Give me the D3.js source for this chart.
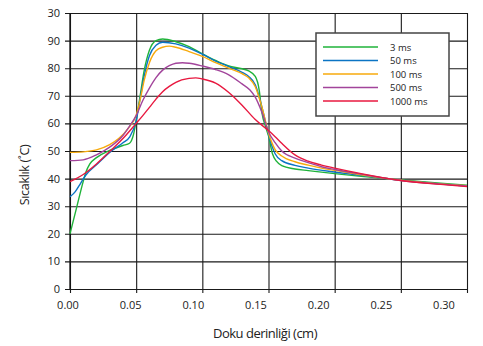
<!DOCTYPE html>
<html>
<head>
<meta charset="utf-8">
<script src="https://cdn.jsdelivr.net/npm/d3@7"></script>
<style>
  body { margin: 0; background: #fff; }
  text { font-family: "Open Sans", sans-serif; fill: #222; }
</style>
</head>
<body>
<svg width="483" height="346"></svg>
<script>
// series values: [depth (cm), temperature (°C)]
var s3 = [[0, 20], [0.005, 29.5], [0.01, 39], [0.012, 42.3], [0.015, 45.3], [0.02, 47.6], [0.03, 50.2], [0.04, 52], [0.045, 52.8], [0.048, 56], [0.05, 61], [0.053, 70], [0.056, 79], [0.06, 86.5], [0.065, 90], [0.07, 90.6], [0.08, 89.6], [0.09, 87.8], [0.10, 85.2], [0.11, 82.8], [0.12, 80.8], [0.13, 79.8], [0.135, 79], [0.14, 77], [0.143, 72], [0.145, 64], [0.148, 58.5], [0.15, 55.5], [0.153, 49], [0.156, 46.3], [0.16, 44.7], [0.17, 43.5], [0.18, 42.9], [0.20, 41.8], [0.22, 40.8], [0.25, 39.5], [0.28, 38.3], [0.30, 37.6]];
var s50 = [[0, 33.4], [0.004, 35.3], [0.008, 38.3], [0.012, 41.3], [0.02, 45], [0.03, 49.5], [0.04, 53], [0.045, 55], [0.05, 61], [0.053, 69], [0.056, 77], [0.06, 84.5], [0.065, 88.3], [0.07, 89.4], [0.08, 88.8], [0.09, 87.3], [0.10, 85.1], [0.11, 82.6], [0.12, 80.6], [0.13, 78.5], [0.135, 77], [0.14, 74], [0.145, 66], [0.148, 60], [0.15, 56], [0.155, 49], [0.16, 46.5], [0.17, 44.8], [0.18, 43.8], [0.20, 42.4], [0.22, 41.2], [0.25, 39.4], [0.28, 38.1], [0.30, 37.3]];
var s100 = [[0, 49.5], [0.01, 49.7], [0.02, 50.4], [0.03, 52.3], [0.037, 54.6], [0.044, 58.2], [0.05, 63], [0.053, 68.5], [0.056, 75.5], [0.06, 82], [0.065, 86.3], [0.07, 87.6], [0.075, 88], [0.08, 87.6], [0.09, 86], [0.10, 84.3], [0.11, 82], [0.12, 80], [0.13, 78], [0.135, 76.5], [0.14, 73.3], [0.145, 66], [0.15, 56.5], [0.155, 50.5], [0.16, 48.2], [0.17, 46.1], [0.18, 44.9], [0.19, 43.8], [0.20, 43], [0.22, 41.4], [0.25, 39.4], [0.28, 38.1], [0.30, 37.4]];
var s500 = [[0, 46.5], [0.01, 46.8], [0.02, 48.6], [0.03, 51.4], [0.04, 55.6], [0.045, 59], [0.05, 62.8], [0.055, 68.3], [0.06, 72.8], [0.065, 76.6], [0.07, 79.3], [0.075, 80.9], [0.08, 81.8], [0.085, 82], [0.09, 81.8], [0.10, 80.8], [0.11, 79.5], [0.12, 77.6], [0.13, 74.3], [0.136, 72.1], [0.14, 69.5], [0.145, 64], [0.15, 57], [0.155, 53], [0.16, 50], [0.17, 47.4], [0.18, 45.8], [0.19, 44.3], [0.20, 43.3], [0.22, 41.6], [0.25, 39.3], [0.28, 38], [0.30, 37.3]];
var s1000 = [[0, 38.9], [0.01, 41.5], [0.02, 45.3], [0.03, 49.8], [0.04, 54.5], [0.05, 60], [0.055, 62.8], [0.06, 65.8], [0.065, 68.8], [0.07, 71.5], [0.075, 73.4], [0.08, 74.9], [0.09, 76.3], [0.095, 76.5], [0.10, 76.1], [0.11, 74.6], [0.12, 71.2], [0.13, 66.6], [0.14, 61.4], [0.15, 57.4], [0.155, 55.2], [0.16, 52.8], [0.17, 48.6], [0.18, 46.3], [0.19, 44.9], [0.20, 43.8], [0.22, 41.8], [0.25, 39.3], [0.28, 37.9], [0.30, 37.1]];

var seriesNames = ['3 ms', '50 ms', '100 ms', '500 ms', '1000 ms'];
var seriesColors = ['#1fb33a', '#0b74c4', '#f7aa0c', '#a2449b', '#e8183f'];
var seriesData = [s3, s50, s100, s500, s1000];

var xTicks = [0, 0.05, 0.10, 0.15, 0.20, 0.25, 0.30];
var yTicks = [0, 10, 20, 30, 40, 50, 60, 70, 80, 90, 100];
var yTickLabels = ['0', '10', '20', '30', '40', '50', '60', '70', '80', '90', '30'];

var svg = d3.select('svg');
var plot = { l: 70, r: 467, t: 13, b: 289 };

var x = d3.scaleLinear().domain([0, 0.30]).range([plot.l, plot.r]);
var y = d3.scaleLinear().domain([0, 100]).range([plot.b, plot.t]);
// tick labels in the original sit a bit off the grid lines
var xLabel = d3.scaleLinear().domain([0, 0.30]).range([68, 444]);

// vertical grid with little ticks below the axis
svg.append('g')
    .attr('class', 'grid')
    .attr('transform', 'translate(0,' + plot.b + ')')
    .call(d3.axisBottom(x).tickValues(xTicks).tickSize(-(plot.b - plot.t)).tickSizeOuter(0).tickFormat(''))
    .call(g => g.select('.domain').remove());
svg.append('g')
    .attr('transform', 'translate(0,' + plot.b + ')')
    .call(d3.axisBottom(x).tickValues(xTicks).tickSize(4).tickFormat(''))
    .call(g => g.select('.domain').remove());

// horizontal grid
svg.append('g')
    .attr('class', 'grid')
    .attr('transform', 'translate(' + plot.r + ',0)')
    .call(d3.axisLeft(y).tickValues(yTicks).tickSize(plot.r - plot.l + 5).tickFormat(''))
    .call(g => g.select('.domain').remove());

svg.selectAll('.grid line, .tick line').attr('stroke', '#1a1a1a').attr('stroke-width', 1.1);

// left axis line
svg.append('line')
    .attr('x1', plot.l).attr('x2', plot.l)
    .attr('y1', plot.t).attr('y2', plot.b)
    .attr('stroke', '#111').attr('stroke-width', 1.3);

// tick labels
svg.append('g').selectAll('text')
    .data(yTicks).enter().append('text')
    .attr('x', 60)
    .attr('y', d => y(d) + 4)
    .attr('text-anchor', 'end')
    .style('font-size', '11px')
    .text((d, i) => yTickLabels[i]);

svg.append('g').selectAll('text')
    .data(xTicks).enter().append('text')
    .attr('x', d => xLabel(d))
    .attr('y', 309)
    .attr('text-anchor', 'middle')
    .style('font-size', '11px')
    .text(d => d.toFixed(2));

// curves
var line = d3.line()
    .x(d => x(d[0]))
    .y(d => y(d[1]))
    .curve(d3.curveMonotoneX);

svg.append('g').selectAll('path')
    .data(seriesData).enter().append('path')
    .attr('fill', 'none')
    .attr('stroke', (d, i) => seriesColors[i])
    .attr('stroke-width', 1.4)
    .attr('d', line);

// legend
var legend = svg.append('g');
legend.append('rect')
    .attr('x', 316).attr('y', 33)
    .attr('width', 133).attr('height', 83)
    .attr('fill', '#fff')
    .attr('stroke', '#444')
    .attr('stroke-width', 1.5);

var legendY = d3.scalePoint().domain(seriesNames).range([47, 101]);
legend.selectAll('.leg-line')
    .data(seriesNames).enter().append('line')
    .attr('x1', 323).attr('x2', 378)
    .attr('y1', d => legendY(d)).attr('y2', d => legendY(d))
    .attr('stroke', (d, i) => seriesColors[i])
    .attr('stroke-width', 1.4);
legend.selectAll('.leg-text')
    .data(seriesNames).enter().append('text')
    .attr('x', 390)
    .attr('y', d => legendY(d) + 3.5)
    .style('font-size', '9.5px')
    .text(d => d);

// axis titles
svg.append('text')
    .attr('x', 265).attr('y', 338)
    .attr('text-anchor', 'middle')
    .style('font-size', '13px')
    .style('letter-spacing', '-0.5px')
    .text('Doku derinliği (cm)');

svg.append('text')
    .attr('transform', 'translate(29,175) rotate(-90)')
    .attr('text-anchor', 'middle')
    .style('font-size', '12.5px')
    .style('letter-spacing', '-0.3px')
    .text('Sıcaklık (˚C)');
</script>
</body>
</html>
